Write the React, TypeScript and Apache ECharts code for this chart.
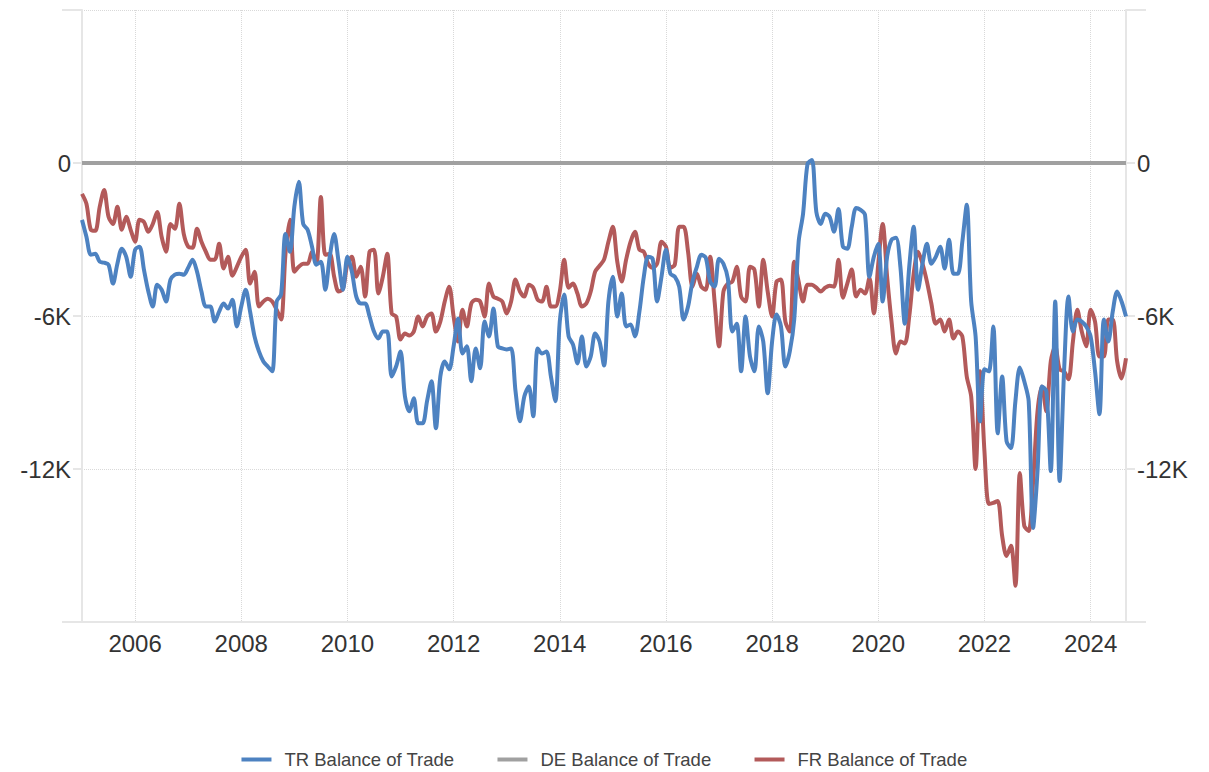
import React, { useEffect, useRef } from "react";
import * as echarts from "echarts";

// Monthly categories, Jan 2005 .. Sep 2024
const startYear = 2005;
const monthCount = 237;
const categories: string[] = [];
for (let i = 0; i < monthCount; i++) {
  const y = startYear + Math.floor(i / 12);
  const m = (i % 12) + 1;
  categories.push(`${y}-${String(m).padStart(2, "0")}`);
}

// Labelled years on the x axis
const xLabelYears = ["2006", "2008", "2010", "2012", "2014", "2016", "2018", "2020", "2022", "2024"];

// Y-axis tick labels (other ticks unlabelled)
const yTickLabels: Record<string, string> = { "0": "0", "-6000": "-6K", "-12000": "-12K" };

const seriesNames = ["TR Balance of Trade", "DE Balance of Trade", "FR Balance of Trade"];

// Turkey balance of trade (USD million)
const trBalance = [
  -2230, -2890, -3600, -3560, -3870, -3910, -3990, -4730, -3950, -3360, -3680, -4460,
  -3400, -3280, -4180, -5040, -5630, -4770, -4970, -5430, -4570, -4380, -4340, -4380,
  -4110, -3790, -4260, -5040, -5630, -5630, -6220, -5830, -5510, -5710, -5360, -6410,
  -5630, -4970, -5830, -6800, -7390, -7780, -7980, -8170, -5430, -5160, -2780, -3480,
  -1720, -740, -2390, -2620, -3280, -3990, -3870, -4970, -3680, -2780, -3870, -4970,
  -3680, -4260, -5240, -5510, -5510, -6020, -6610, -6880, -6610, -6610, -8370, -7980,
  -7390, -9150, -9740, -9230, -10210, -10210, -9340, -8560, -10400, -8370, -7780, -8090,
  -7190, -6100, -7470, -7190, -8560, -7270, -8050, -6220, -6800, -5710, -7190, -7270,
  -7310, -7270, -8950, -10130, -9150, -8760, -9930, -7270, -7470, -7390, -8370, -9340,
  -6220, -5160, -6800, -7120, -7860, -6800, -7980, -7590, -6690, -7000, -7940, -5430,
  -4460, -6020, -5120, -6410, -6330, -6800, -5830, -4460, -3680, -3750, -5430, -4460,
  -3400, -4340, -4460, -4850, -6140, -5630, -4650, -4070, -3600, -3710, -4650, -4850,
  -3750, -3950, -4540, -6610, -6300, -8170, -6020, -7590, -8170, -6410, -7000, -9030,
  -7000, -5940, -6410, -7980, -7390, -6140, -3090, -1990, -40, 120, -1920, -2390,
  -1990, -2110, -2700, -1800, -3280, -3360, -2500, -1760, -1840, -2030, -4460, -3680,
  -3170, -5430, -3680, -3010, -2930, -4070, -6300, -4070, -2500, -4970, -3950, -3170,
  -3950, -3680, -3280, -4140, -3010, -4340, -4340, -3090, -1640, -5430, -6800, -10130,
  -8090, -8170, -6410, -10600, -8370, -10910, -11180, -9340, -8020, -8560, -9340, -14310,
  -12080, -8760, -8950, -12080, -5430, -12470, -8170, -5240, -6610, -6140, -6220, -6410,
  -6800, -8170, -9850, -6140, -7000, -5830, -5040, -5430, -6020,
];

// Germany balance of trade as drawn (flat at zero)
const deBalance = [
  0, 0, 0, 0, 0, 0, 0, 0, 0, 0, 0, 0, 0, 0, 0, 0, 0, 0, 0, 0, 0, 0, 0, 0,
  0, 0, 0, 0, 0, 0, 0, 0, 0, 0, 0, 0, 0, 0, 0, 0, 0, 0, 0, 0, 0, 0, 0, 0,
  0, 0, 0, 0, 0, 0, 0, 0, 0, 0, 0, 0, 0, 0, 0, 0, 0, 0, 0, 0, 0, 0, 0, 0,
  0, 0, 0, 0, 0, 0, 0, 0, 0, 0, 0, 0, 0, 0, 0, 0, 0, 0, 0, 0, 0, 0, 0, 0,
  0, 0, 0, 0, 0, 0, 0, 0, 0, 0, 0, 0, 0, 0, 0, 0, 0, 0, 0, 0, 0, 0, 0, 0,
  0, 0, 0, 0, 0, 0, 0, 0, 0, 0, 0, 0, 0, 0, 0, 0, 0, 0, 0, 0, 0, 0, 0, 0,
  0, 0, 0, 0, 0, 0, 0, 0, 0, 0, 0, 0, 0, 0, 0, 0, 0, 0, 0, 0, 0, 0, 0, 0,
  0, 0, 0, 0, 0, 0, 0, 0, 0, 0, 0, 0, 0, 0, 0, 0, 0, 0, 0, 0, 0, 0, 0, 0,
  0, 0, 0, 0, 0, 0, 0, 0, 0, 0, 0, 0, 0, 0, 0, 0, 0, 0, 0, 0, 0, 0, 0, 0,
  0, 0, 0, 0, 0, 0, 0, 0, 0, 0, 0, 0, 0, 0, 0, 0, 0, 0, 0, 0, 0,
];

// France balance of trade (EUR million)
const frBalance = [
  -1210, -1600, -2620, -2660, -1720, -1060, -2110, -2390, -1720, -2620, -2110, -2620,
  -3090, -2230, -2310, -2700, -2390, -1920, -2890, -3480, -2390, -2580, -1600, -2780,
  -3280, -3320, -2580, -3090, -3480, -3790, -3790, -3170, -4140, -3680, -4420, -4070,
  -3680, -3400, -4730, -4260, -5630, -5430, -5320, -5430, -5750, -6140, -3560, -2230,
  -4260, -4070, -3950, -3950, -3480, -3950, -1330, -3600, -3560, -4460, -5040, -4930,
  -3950, -3680, -4460, -4070, -5240, -3480, -3400, -5120, -4460, -3560, -5900, -6020,
  -6920, -6690, -6760, -6610, -6020, -6410, -6020, -5900, -6610, -6220, -5430, -4850,
  -6020, -7000, -5750, -6410, -5510, -5360, -5430, -6020, -4730, -5240, -5320, -5430,
  -5900, -5430, -4570, -5040, -5240, -4770, -4890, -5360, -5430, -4850, -5630, -5630,
  -5040, -3790, -4890, -4730, -5120, -5630, -5510, -5040, -4260, -4030, -3790, -3090,
  -2500, -3870, -4650, -3790, -3090, -2700, -3400, -3480, -3950, -4110, -3950, -3090,
  -3280, -4110, -3990, -2500, -2500, -3480, -4850, -4340, -4850, -4970, -3680, -5430,
  -7190, -5040, -4730, -4650, -4070, -5240, -5430, -4070, -4180, -5630, -3790, -5040,
  -6020, -4650, -4570, -6220, -6610, -3870, -4650, -5430, -4770, -4770, -4890, -5040,
  -4890, -4810, -4850, -3790, -5280, -4730, -4180, -5240, -4970, -5120, -4500, -5900,
  -3950, -2390, -4460, -6220, -7470, -7000, -7080, -6020, -4340, -3480, -3950, -4650,
  -5510, -6300, -6140, -6610, -6140, -6880, -6610, -6800, -8370, -9150, -12000, -8170,
  -11300, -13370, -13330, -13250, -14620, -15410, -15010, -16580, -12160, -14230, -14430, -12500,
  -9740, -8760, -9740, -7780, -7190, -8090, -8170, -8480, -7000, -5750, -6610, -7190,
  -5750, -6220, -7590, -7590, -6140, -6140, -7780, -8450, -7660,
];

const FONT = "'Liberation Sans', Arial, sans-serif";
const isYearStart = (v: string) => v.endsWith("-01") && xLabelYears.includes(v.slice(0, 4));

export default function App() {
  const ref = useRef<HTMLDivElement>(null);
  useEffect(() => {
    if (!ref.current) return;
    const chart = echarts.init(ref.current, undefined, { renderer: "svg" });
    const yAxisBase = (position: "left" | "right") => ({
      type: "value" as const,
      position,
      min: -18000,
      max: 6000,
      interval: 6000,
      axisLine: { show: true, lineStyle: { color: "#e6e6e6", width: 2 } },
      axisTick: { show: true, length: 20, lineStyle: { color: "#e6e6e6", width: 2 } },
      axisLabel: {
        margin: 9,
        fontSize: 24,
        color: "#333",
        fontFamily: FONT,
        backgroundColor: "#fff",
        padding: [0, 2, 0, 2],
        formatter: (v: number) => yTickLabels[String(v)] ?? "",
      },
      splitLine: {
        show: position === "left",
        lineStyle: { type: "dotted" as const, color: "#d9d9d9", width: 1 },
      },
    });
    chart.setOption({
      animation: false,
      grid: { left: 82, right: 83, top: 10, bottom: 150 },
      legend: {
        data: seriesNames,
        top: 745,
        left: "center",
        icon: "rect",
        itemWidth: 30,
        itemHeight: 4,
        itemGap: 43,
        textStyle: { fontSize: 18.5, color: "#444", fontFamily: FONT, padding: [0, 0, 0, 8] },
      },
      xAxis: {
        type: "category",
        data: categories,
        boundaryGap: false,
        axisLine: { show: true, onZero: false, lineStyle: { color: "#e6e6e6", width: 2 } },
        axisTick: { show: false },
        axisLabel: {
          interval: (_i: number, v: string) => isYearStart(v),
          formatter: (v: string) => v.slice(0, 4),
          fontSize: 24,
          color: "#333",
          fontFamily: FONT,
          margin: 9,
        },
        splitLine: {
          show: true,
          interval: (_i: number, v: string) => isYearStart(v),
          lineStyle: { type: "dotted", color: "#d9d9d9", width: 1 },
        },
      },
      yAxis: [yAxisBase("left"), yAxisBase("right")],
      series: [
        {
          name: seriesNames[1],
          type: "line",
          data: deBalance,
          showSymbol: false,
          smooth: 0.3,
          lineStyle: { color: "#a0a0a0", width: 4 },
          itemStyle: { color: "#a0a0a0" },
          z: 2,
        },
        {
          name: seriesNames[2],
          type: "line",
          data: frBalance,
          showSymbol: false,
          smooth: 0.3,
          lineStyle: { color: "#b35a5a", width: 4 },
          itemStyle: { color: "#b35a5a" },
          z: 3,
        },
        {
          name: seriesNames[0],
          type: "line",
          data: trBalance,
          showSymbol: false,
          smooth: 0.3,
          lineStyle: { color: "#4d82c1", width: 4 },
          itemStyle: { color: "#4d82c1" },
          z: 4,
        },
      ],
    });
    return () => chart.dispose();
  }, []);
  return (
    <div
      ref={ref}
      style={{ position: "fixed", left: 0, top: 0, width: 1209, height: 772, background: "#fff" }}
    />
  );
}
